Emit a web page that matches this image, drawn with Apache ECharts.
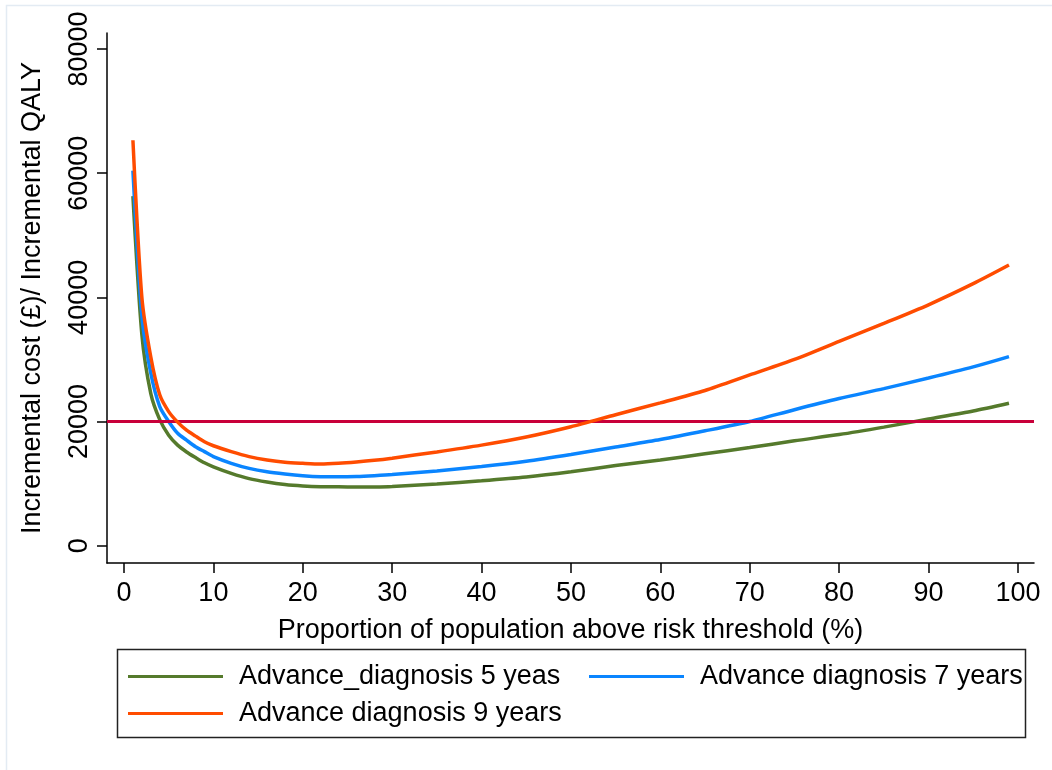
<!DOCTYPE html>
<html>
<head>
<meta charset="utf-8">
<script src="https://cdn.jsdelivr.net/npm/echarts@6/dist/echarts.min.js"></script>
<style>
html,body{margin:0;padding:0;background:#fff;}
#chart{width:1052px;height:770px;}
</style>
</head>
<body>
<div id="chart"></div>
<script>
// Proportion of population above risk threshold (%)
var xValues = [1,2,3,4,5,6,7,8,9,10,12,14,16,18,20,22,24,26,28,30,35,40,45,50,55,60,65,70,75,80,85,90,95,99];
// Incremental cost / incremental QALY
var years5 = [56300,34000,24500,20300,17800,16200,15100,14200,13350,12700,11650,10800,10250,9850,9620,9500,9480,9450,9470,9550,9950,10450,11050,11900,12900,13800,14800,15800,16900,17900,19100,20400,21700,22950];
var years7 = [60400,37000,27800,22400,20000,18100,17000,15950,15150,14350,13270,12450,11900,11550,11280,11120,11100,11150,11280,11450,12050,12750,13600,14700,15900,17100,18500,20000,21900,23700,25300,27000,28800,30450];
var years9 = [65300,40000,30400,24300,21600,19900,18600,17650,16750,16100,15150,14350,13800,13430,13270,13160,13270,13480,13750,14100,15100,16200,17500,19150,21100,23000,25000,27500,30000,32900,35800,38800,42200,45200];
var seriesNames = ['Advance_diagnosis 5 yeas','Advance diagnosis 7 years','Advance diagnosis 9 years'];
var threshold = 20000;
var xTicks = [0,10,20,30,40,50,60,70,80,90,100];
var yTicks = [0,20000,40000,60000,80000];

function pairs(vals){ return xValues.map(function(x,i){ return [x, vals[i]]; }); }

var FONT = 'Liberation Sans, Arial, Helvetica, sans-serif';
var colors = ['#557a2c','#0a85ff','#ff4c00'];

var chart = echarts.init(document.getElementById('chart'), null, {renderer:'canvas'});
var legendBase = {
  orient:'horizontal', icon:'rect', itemWidth:95, itemHeight:3,
  textStyle:{fontFamily:FONT, fontSize:27, color:'#000', padding:[0,0,0,11]},
  selectedMode:false, padding:0
};
chart.setOption({
  animation:false,
  backgroundColor:'#fff',
  textStyle:{fontFamily:FONT},
  grid:{left:107, right:18, top:33, bottom:207, containLabel:false},
  xAxis:{
    type:'value', min:-1.9, max:101.8,
    name:'Proportion of population above risk threshold (%)',
    nameLocation:'middle', nameGap:54,
    nameTextStyle:{fontFamily:FONT, fontSize:27, color:'#000'},
    axisLine:{show:true, onZero:false, lineStyle:{color:'#000', width:1.5}},
    axisTick:{show:true, length:10, lineStyle:{color:'#000', width:1.5},
      customValues: xTicks},
    axisLabel:{fontFamily:FONT, fontSize:27, color:'#000', margin:17,
      customValues: xTicks, formatter:function(v){return String(v);}},
    splitLine:{show:false}
  },
  yAxis:{
    type:'value', min:-2786, max:82575,
    name:'Incremental cost (£)/ Incremental QALY',
    nameLocation:'middle', nameGap:61, nameRotate:90,
    nameTextStyle:{fontFamily:FONT, fontSize:27, color:'#000'},
    axisLine:{show:true, onZero:false, lineStyle:{color:'#000', width:1.5}},
    axisTick:{show:true, length:10, lineStyle:{color:'#000', width:1.5},
      customValues: yTicks},
    axisLabel:{fontFamily:FONT, fontSize:27, color:'#000', margin:14, rotate:90,
      customValues: yTicks, formatter:function(v){return String(v);}},
    splitLine:{show:false}
  },
  legend:[
    Object.assign({}, legendBase, {data:[seriesNames[0]], left:128, top:663}),
    Object.assign({}, legendBase, {data:[seriesNames[1]], left:589, top:663}),
    Object.assign({}, legendBase, {data:[seriesNames[2]], left:128, top:700})
  ],
  graphic:[
    {type:'rect', shape:{x:6.5, y:5.5, width:1100, height:800}, style:{fill:'none', stroke:'#e3ebf3', lineWidth:1.5}, z:-1},
    {type:'rect', shape:{x:117.5, y:649.5, width:908, height:88}, style:{fill:'none', stroke:'#222', lineWidth:1.5}}
  ],
  series:[
    {name:seriesNames[0], type:'line', data:pairs(years5), showSymbol:false, symbol:'none', smooth:0.25,
      lineStyle:{color:colors[0], width:3.5}, itemStyle:{color:colors[0]}, z:3,
      markLine:{silent:true, symbol:'none', label:{show:false},
        lineStyle:{color:'#c8003a', width:3, type:'solid'},
        data:[{yAxis:threshold}]}},
    {name:seriesNames[1], type:'line', data:pairs(years7), showSymbol:false, symbol:'none', smooth:0.25,
      lineStyle:{color:colors[1], width:3.5}, itemStyle:{color:colors[1]}, z:4},
    {name:seriesNames[2], type:'line', data:pairs(years9), showSymbol:false, symbol:'none', smooth:0.25,
      lineStyle:{color:colors[2], width:3.5}, itemStyle:{color:colors[2]}, z:5}
  ]
});
</script>
</body>
</html>
